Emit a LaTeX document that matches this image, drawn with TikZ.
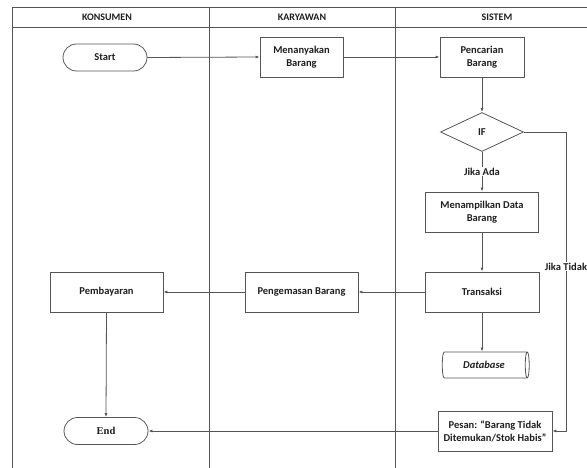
\documentclass[tikz,border=0pt]{standalone}
\usepackage{fontspec}
\setmainfont{Carlito}
\newfontfamily\serifbf{Liberation Serif}
\usetikzlibrary{arrows.meta,shapes.geometric}
\definecolor{ln}{RGB}{85,85,85}
\definecolor{tx}{RGB}{30,30,30}
\tikzset{
  lane/.style={draw=ln, line width=0.8pt},
  procbox/.style={draw=ln, line width=0.8pt, rectangle, minimum height=40pt, align=center, font=\bfseries\fontsize{10.5}{13}\selectfont, text=tx, inner sep=2pt},
  termbox/.style={draw=ln, line width=0.8pt, rectangle, rounded corners=13.5pt, minimum width=84pt, minimum height=27pt, font=\bfseries\fontsize{10.5}{13}\selectfont, text=tx},
  decbox/.style={draw=ln, line width=0.8pt, diamond, minimum width=83pt, minimum height=39pt, inner sep=0pt, font=\bfseries\fontsize{10.5}{13}\selectfont, text=tx},
  dbbox/.style={draw=ln, line width=0.8pt, cylinder, shape aspect=0.35, minimum width=26pt, minimum height=87pt, inner sep=2pt, font=\bfseries\itshape\fontsize{10.5}{13}\selectfont, text=tx},
  hdr/.style={font=\bfseries\fontsize{10}{12}\selectfont, text=tx},
  lbl/.style={fill=white, font=\bfseries\fontsize{10.5}{13}\selectfont, text=tx, inner sep=1pt},
  flow/.style={draw=ln, line width=0.8pt, -{Latex[length=4pt,width=3pt]}}
}
\begin{document}
\begin{tikzpicture}[x=1pt,y=-1pt]
\useasboundingbox (0,0) rectangle (587,468);
% swimlane frame
\draw[lane] (12,7) -- (587,7);
\draw[lane] (12,27) -- (587,27);
\draw[lane] (12,7) -- (12,468);
\draw[lane] (209,7) -- (209,468);
\draw[lane] (395,7) -- (395,468);
\node[hdr] (h1) at (107,17) {KONSUMEN};
\node[hdr] (h2) at (302,17) {KARYAWAN};
\node[hdr] (h3) at (497,17) {SISTEM};
% nodes
\node[termbox] (start) at (105,57.5) {Start};
\node[procbox, minimum width=83pt] (tanya) at (301.5,57) {Menanyakan\\Barang};
\node[procbox, minimum width=84pt] (cari) at (482,57) {Pencarian\\Barang};
\node[decbox] (if) at (482,132) {IF};
\node[procbox, minimum width=113pt] (tampil) at (482,212) {Menampilkan Data\\Barang};
\node[procbox, minimum width=114pt] (trans) at (482,292) {Transaksi};
\node[procbox, minimum width=113pt] (kemas) at (301.5,292) {Pengemasan Barang};
\node[procbox, minimum width=113pt] (bayar) at (106.5,292) {Pembayaran};
\node[dbbox] (db) at (484,365) {Database};
\node[procbox, minimum width=114pt] (pesan) at (495,431) {Pesan: “Barang Tidak\\Ditemukan/Stok Habis”};
\node[termbox, font=\serifbf\bfseries\fontsize{10.5}{13}\selectfont] (end) at (106,431) {End};
\coordinate (c1) at (566,132);
\coordinate (c2) at (566,431);
% connectors
\draw[flow] (start.east) -- (tanya.west);
\draw[flow] (tanya.east) -- (cari.west);
\draw[flow] (cari.south) -- (if.north);
\draw[flow] (if.south) -- node[lbl] {Jika Ada} (tampil.north);
\draw[flow] (tampil.south) -- (trans.north);
\draw[flow] (if.east) -- (c1) -- node[lbl, pos=0.45] {Jika Tidak} (c2) -- (pesan.east);
\draw[flow] (trans.west) -- (kemas.east);
\draw[flow] (kemas.west) -- (bayar.east);
\draw[flow] (trans.south) -- (trans.south |- db.north);
\draw[flow] (bayar.south) -- (end.north);
\draw[flow] (pesan.west) -- (end.east);
\end{tikzpicture}
\end{document}
